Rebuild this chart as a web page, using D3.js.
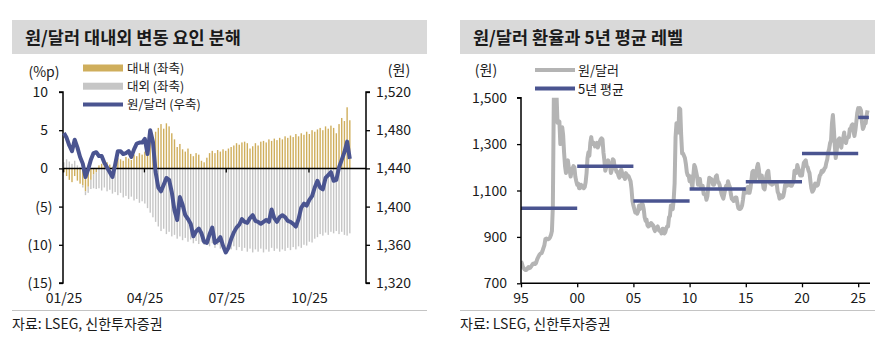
<!DOCTYPE html>
<html><head><meta charset="utf-8">
<script src="https://cdn.jsdelivr.net/npm/d3@7/dist/d3.min.js"></script>
<style>
body{margin:0;background:#fff;}
svg text{font-family:"Noto Sans CJK KR","Noto Sans",sans-serif;fill:#1a1a1a;}
</style></head><body>
<svg id="c" width="890" height="350"></svg>
<script>
// ---------------- DATA ----------------
const leftTitle = "원/달러 대내외 변동 요인 분해";
const rightTitle = "원/달러 환율과 5년 평균 레벨";
const sourceText = "자료: LSEG, 신한투자증권";
const leftSeriesNames = ["대내 (좌축)", "대외 (좌축)", "원/달러 (우축)"];
const rightSeriesNames = ["원/달러", "5년 평균"];

// left chart: sample dates (2025), domestic / external factor (%p), USD/KRW (won)
const leftDates = ["1/2","1/5","1/8","1/11","1/14","1/17","1/20","1/23","1/26","1/29",
 "2/1","2/4","2/7","2/10","2/13","2/16","2/19","2/22","2/25","2/28",
 "3/3","3/6","3/9","3/12","3/15","3/18","3/21","3/24","3/27","3/30",
 "4/2","4/5","4/8","4/11","4/14","4/17","4/20","4/23","4/26","4/29",
 "5/2","5/5","5/8","5/11","5/14","5/17","5/20","5/23","5/26","5/29",
 "6/1","6/4","6/7","6/10","6/13","6/16","6/19","6/22","6/25","6/28",
 "7/1","7/4","7/7","7/10","7/13","7/16","7/19","7/22","7/25","7/28","7/31",
 "8/3","8/6","8/9","8/12","8/15","8/18","8/21","8/24","8/27","8/30",
 "9/2","9/5","9/8","9/11","9/14","9/17","9/20","9/23","9/26","9/29",
 "10/2","10/5","10/8","10/11","10/14","10/17","10/20","10/23","10/26","10/29",
 "11/1","11/4","11/7","11/10","11/13","11/16"];
const domesticPct = [-0.5,-1.0,-1.5,-1.8,-1.0,-1.6,-2.0,-2.2,-3.0,-2.4,
 -1.5,-0.8,-0.5,0.4,0.6,0.3,0.8,0.5,0.2,0.9,
 1.4,1.2,1.0,1.5,1.3,1.1,1.8,1.6,2.0,1.8,
 2.2,3.5,4.5,4.0,4.8,5.3,5.8,5.2,5.9,5.5,
 4.6,3.8,2.8,3.2,2.5,2.2,2.6,1.9,1.6,2.0,
 1.8,1.0,0.8,1.4,2.0,2.3,2.0,2.4,2.2,2.5,
 2.3,2.6,2.8,3.0,3.3,3.1,3.4,3.5,3.3,2.6,2.9,
 3.3,3.0,3.5,3.6,3.4,3.8,3.6,3.9,3.7,4.0,
 3.8,4.2,4.0,4.3,4.1,4.5,4.2,4.6,4.4,4.8,
 4.5,5.0,4.8,5.1,5.3,5.0,5.5,5.2,5.6,5.3,
 4.6,5.8,6.6,6.2,8.0,6.3];
const externalPct = [0.8,1.2,0.9,0.6,1.0,0.4,0.2,-0.3,-0.5,-0.8,
 -1.2,-1.8,-2.2,-2.6,-2.9,-2.5,-3.0,-2.8,-3.3,-3.1,
 -3.5,-3.2,-3.8,-3.6,-4.0,-3.7,-4.2,-4.0,-4.5,-4.3,
 -4.6,-5.2,-5.8,-6.4,-7.0,-7.6,-8.2,-7.9,-8.6,-8.3,
 -8.9,-8.7,-9.2,-8.9,-9.4,-9.1,-9.6,-9.3,-9.8,-9.5,
 -9.9,-9.6,-10.0,-9.7,-10.2,-9.8,-10.4,-10.0,-10.5,-10.2,
 -10.8,-10.4,-10.6,-10.2,-10.7,-10.3,-10.8,-10.4,-10.9,-10.5,-11.0,
 -10.6,-10.9,-10.5,-11.0,-10.6,-10.9,-10.4,-10.8,-10.5,-10.9,
 -10.6,-10.8,-10.4,-10.7,-10.3,-10.6,-10.2,-10.4,-10.0,-10.1,
 -9.6,-9.7,-9.2,-9.0,-8.6,-8.8,-8.4,-8.7,-8.3,-8.5,
 -8.2,-8.6,-8.3,-8.7,-8.8,-8.5];
const usdkrwDaily = [1477,1472,1464,1458,1470,1462,1452,1445,1431,1439,
 1449,1456,1457,1453,1453,1446,1441,1436,1431,1444,
 1458,1458,1455,1456,1458,1452,1460,1466,1467,1467,
 1471,1455,1480,1468,1436,1420,1416,1423,1430,1428,
 1415,1396,1386,1410,1402,1391,1387,1382,1369,1374,
 1377,1372,1363,1362,1371,1378,1362,1364,1368,1359,
 1352,1357,1366,1373,1378,1381,1387,1384,1383,1388,1391,
 1385,1384,1382,1384,1386,1384,1397,1388,1384,1389,
 1391,1389,1385,1384,1382,1379,1387,1399,1403,1401,
 1407,1411,1420,1427,1420,1418,1430,1433,1436,1427,
 1428,1441,1449,1457,1468,1450];
const leftYTicks = [10,5,0,-5,-10,-15];
const rightYTicks = [1520,1480,1440,1400,1360,1320];
const leftXTicks = ["1/1","4/1","7/1","10/1"];
const leftXLabels = ["01/25","04/25","07/25","10/25"];

// right chart: monthly USD/KRW from Jan 1995
const monthlyStartYear = 1995;
const krwMonthly = [
 795,785,770,765,760,757,758,765,770,765,768,773,
 780,785,786,783,787,800,810,818,825,829,830,840,
 853,865,890,893,891,890,892,898,908,925,1030,1484,
 1706,1623,1505,1392,1394,1397,1300,1303,1373,1338,1263,1206,
 1175,1215,1230,1200,1185,1160,1185,1195,1205,1200,1160,1140,
 1125,1130,1110,1110,1125,1120,1115,1110,1115,1135,1175,1240,
 1265,1250,1305,1330,1300,1300,1305,1290,1300,1305,1285,1295,
 1310,1320,1325,1320,1265,1230,1185,1200,1215,1230,1215,1210,
 1175,1190,1235,1230,1200,1195,1180,1180,1165,1155,1180,1190,
 1175,1160,1160,1150,1175,1160,1165,1160,1150,1140,1105,1055,
 1035,1020,1005,1010,1000,1010,1035,1020,1030,1045,1040,1020,
 985,970,975,950,945,955,950,960,955,950,935,925,
 940,940,945,930,925,925,915,935,935,915,920,935,
 945,945,985,990,1035,1030,1020,1060,1130,1330,1390,1365,
 1350,1455,1450,1340,1260,1260,1250,1240,1215,1180,1165,1165,
 1140,1160,1135,1115,1165,1210,1200,1180,1160,1125,1135,1150,
 1115,1120,1120,1085,1085,1080,1060,1075,1120,1155,1140,1150,
 1145,1125,1125,1135,1160,1165,1140,1135,1125,1105,1087,1075,
 1065,1085,1105,1120,1110,1140,1125,1115,1085,1065,1060,1055,
 1065,1070,1070,1045,1025,1020,1020,1025,1035,1060,1095,1105,
 1090,1100,1115,1090,1090,1110,1145,1180,1185,1145,1150,1170,
 1200,1215,1190,1145,1165,1165,1140,1110,1105,1130,1165,1180,
 1185,1145,1130,1135,1125,1130,1130,1130,1135,1130,1095,1085,
 1065,1080,1070,1070,1075,1095,1125,1120,1120,1130,1130,1125,
 1120,1120,1130,1140,1185,1175,1175,1210,1195,1185,1165,1175,
 1165,1195,1220,1225,1230,1205,1200,1185,1175,1140,1110,1095,
 1100,1110,1130,1120,1120,1125,1145,1165,1170,1185,1180,1185,
 1195,1200,1220,1235,1265,1280,1305,1315,1390,1425,1365,1295,
 1240,1270,1305,1320,1325,1295,1285,1320,1325,1350,1310,1305,
 1325,1330,1330,1365,1365,1380,1385,1355,1335,1360,1395,1435,
 1455,1445,1455,1445,1395,1365,1375,1390,1390,1425,1445];
const avgStartYear = [1995,2000,2005,2010,2015,2020,2025];
const avgEndYear   = [2000,2005,2010,2015,2020,2025,2026];
const avgLevel     = [1023,1205,1055,1106,1138,1260,1415];
const rYTicks = [1500,1300,1100,900,700];
const rXTicks = [1995,2000,2005,2010,2015,2020,2025];
const rXLabels = ["95","00","05","10","15","20","25"];

// ---------------- STYLE ----------------
const GOLD = "#cfae5c", GRAY_BAR = "#c6c6c6", NAVY = "#4a5490", GRAY_LINE = "#b4b4b4";
const svg = d3.select("#c");

function panelFrame(x0, x1, title){
  svg.append("rect").attr("x", x0).attr("y", 20).attr("width", x1 - x0).attr("height", 34).attr("fill", "#d9d9d9");
  svg.append("text").attr("x", x0 + 13).attr("y", 43.5).attr("font-size", 17.5).attr("font-weight", "bold").text(title);
  svg.append("line").attr("x1", x0).attr("x2", x1).attr("y1", 310.5).attr("y2", 310.5).attr("stroke", "#c4c4c4").attr("stroke-width", 1.2);
  svg.append("text").attr("x", x0).attr("y", 329).attr("font-size", 14).text(sourceText);
}

// ---------------- LEFT CHART ----------------
panelFrame(12, 427, leftTitle);
const parseL = s => { const [m, d] = s.split("/").map(Number); return new Date(2025, m - 1, d); };
const xL = d3.scaleTime().domain([new Date(2025,0,1), new Date(2025,11,4)]).range([63, 366]);
const yL = d3.scaleLinear().domain([-15, 10]).range([283, 92]);
const yR = d3.scaleLinear().domain([1320, 1520]).range([283, 92]);

const rows = leftDates.map((d, i) => ({date: parseL(d), domestic: domesticPct[i], external: externalPct[i], krw: usdkrwDaily[i]}));
const stack = d3.stack().keys(["domestic", "external"]).offset(d3.stackOffsetDiverging)(rows);
const barColor = {domestic: GOLD, external: GRAY_BAR};
const gBars = svg.append("g");
stack.forEach(layer => {
  gBars.selectAll(null).data(layer).join("rect")
    .attr("x", d => xL(d.data.date) - 0.7)
    .attr("width", 1.4)
    .attr("y", d => yL(Math.max(d[0], d[1])))
    .attr("height", d => Math.abs(yL(d[0]) - yL(d[1])))
    .attr("fill", barColor[layer.key]);
});

// axes
const axL = svg.append("g").attr("transform", "translate(63,0)")
  .call(d3.axisLeft(yL).tickValues(leftYTicks).tickSize(4).tickFormat(() => ""));
axL.select(".domain").attr("stroke", "#000").attr("stroke-width", 1.5).attr("d", `M-4,${yL(10)}H0V${yL(-15)}H-4`);
axL.selectAll(".tick line").attr("stroke", "#000").attr("stroke-width", 1.3);
leftYTicks.forEach(v => {
  svg.append("text").attr("x", v < 0 ? 52.5 : 48).attr("y", yL(v) + 5).attr("text-anchor", "end").attr("font-size", 14)
    .text(v < 0 ? `(${-v})` : v);
});
const axR = svg.append("g").attr("transform", "translate(366,0)")
  .call(d3.axisRight(yR).tickValues(rightYTicks).tickSize(4).tickFormat(() => ""));
axR.select(".domain").attr("stroke", "#000").attr("stroke-width", 1.5).attr("d", `M4,${yR(1520)}H0V${yR(1320)}H4`);
axR.selectAll(".tick line").attr("stroke", "#000").attr("stroke-width", 1.3);
rightYTicks.forEach(v => {
  svg.append("text").attr("x", 376).attr("y", yR(v) + 5).attr("font-size", 14).text(d3.format(",")(v));
});
// zero line with ticks
const axX = svg.append("g").attr("transform", `translate(0,${yL(0)})`)
  .call(d3.axisBottom(xL).tickValues(leftXTicks.map(parseL)).tickSize(4).tickFormat(() => ""));
axX.select(".domain").attr("stroke", "#000").attr("stroke-width", 1.5).attr("d", `M63,0H366`);
axX.selectAll(".tick line").attr("stroke", "#000").attr("stroke-width", 1.3);
leftXTicks.forEach((t, i) => {
  svg.append("text").attr("x", xL(parseL(t)) + 1).attr("y", 303).attr("text-anchor", "middle").attr("font-size", 14).text(leftXLabels[i]);
});
svg.append("text").attr("x", 44).attr("y", 77).attr("text-anchor", "middle").attr("font-size", 14).text("(%p)");
svg.append("text").attr("x", 399).attr("y", 75).attr("text-anchor", "middle").attr("font-size", 14).text("(원)");

// KRW line
svg.append("path").datum(rows)
  .attr("d", d3.line().x(d => xL(d.date)).y(d => yR(d.krw)))
  .attr("fill", "none").attr("stroke", NAVY).attr("stroke-width", 4).attr("stroke-linejoin", "round");

// legend
const legY = [68, 86.2, 104.4];
const lg = svg.append("g");
lg.append("rect").attr("x", 83).attr("y", legY[0] - 3.5).attr("width", 40).attr("height", 7).attr("fill", GOLD);
lg.append("rect").attr("x", 83).attr("y", legY[1] - 3.5).attr("width", 40).attr("height", 7).attr("fill", GRAY_BAR);
lg.append("line").attr("x1", 83).attr("x2", 123).attr("y1", legY[2]).attr("y2", legY[2]).attr("stroke", NAVY).attr("stroke-width", 4);
leftSeriesNames.forEach((n, i) => {
  lg.append("text").attr("x", 127).attr("y", legY[i] + 4.5).attr("font-size", 12.5).text(n);
});

// ---------------- RIGHT CHART ----------------
panelFrame(460, 875, rightTitle);
const xR2 = d3.scaleLinear().domain([1995, 2026.05]).range([521, 870]);
const yR2 = d3.scaleLinear().domain([700, 1500]).range([283.3, 97.7]);
svg.append("defs").append("clipPath").attr("id", "clipR").append("rect")
  .attr("x", 521).attr("y", yR2(1500)).attr("width", 352).attr("height", yR2(700) - yR2(1500));

const monthly = krwMonthly.map((v, i) => ({t: monthlyStartYear + i / 12, v}));
svg.append("path").datum(monthly).attr("clip-path", "url(#clipR)")
  .attr("d", d3.line().x(d => xR2(d.t)).y(d => yR2(d.v)))
  .attr("fill", "none").attr("stroke", GRAY_LINE).attr("stroke-width", 4).attr("stroke-linejoin", "round");
avgLevel.forEach((v, i) => {
  svg.append("line").attr("x1", xR2(avgStartYear[i])).attr("x2", xR2(Math.min(avgEndYear[i], 2025.95)))
    .attr("y1", yR2(v)).attr("y2", yR2(v)).attr("stroke", NAVY).attr("stroke-width", 3.5);
});

const ay2 = svg.append("g").attr("transform", "translate(521,0)")
  .call(d3.axisLeft(yR2).tickValues(rYTicks).tickSize(4).tickFormat(() => ""));
ay2.select(".domain").attr("stroke", "#000").attr("stroke-width", 1.5).attr("d", `M-4,${yR2(1500)}H0V${yR2(700)}`);
ay2.selectAll(".tick line").attr("stroke", "#000").attr("stroke-width", 1.3);
rYTicks.forEach(v => {
  svg.append("text").attr("x", 507).attr("y", yR2(v) + 5).attr("text-anchor", "end").attr("font-size", 14).text(d3.format(",")(v));
});
const ax2 = svg.append("g").attr("transform", `translate(0,${yR2(700)})`)
  .call(d3.axisBottom(xR2).tickValues(rXTicks).tickSize(4).tickFormat(() => ""));
ax2.select(".domain").attr("stroke", "#000").attr("stroke-width", 1.5).attr("d", `M521,0H870`);
ax2.selectAll(".tick line").attr("stroke", "#000").attr("stroke-width", 1.3);
rXTicks.forEach((t, i) => {
  svg.append("text").attr("x", xR2(t)).attr("y", 303).attr("text-anchor", "middle").attr("font-size", 14).text(rXLabels[i]);
});
svg.append("text").attr("x", 486).attr("y", 75).attr("text-anchor", "middle").attr("font-size", 14).text("(원)");

const lg2 = svg.append("g");
lg2.append("line").attr("x1", 535).attr("x2", 575).attr("y1", 70).attr("y2", 70).attr("stroke", GRAY_LINE).attr("stroke-width", 4);
lg2.append("line").attr("x1", 535).attr("x2", 575).attr("y1", 88.5).attr("y2", 88.5).attr("stroke", NAVY).attr("stroke-width", 4);
rightSeriesNames.forEach((n, i) => {
  lg2.append("text").attr("x", 578).attr("y", [75, 93.5][i]).attr("font-size", 13).text(n);
});
</script>
</body></html>
